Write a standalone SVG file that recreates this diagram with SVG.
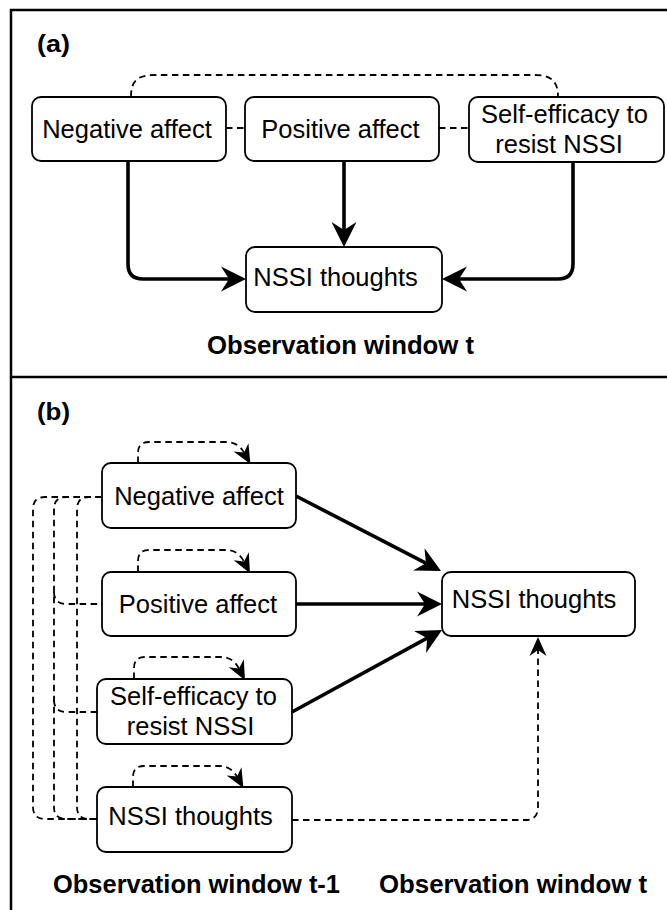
<svg xmlns="http://www.w3.org/2000/svg" width="667" height="910" viewBox="0 0 667 910">
<style>
.box{fill:#fff;stroke:#000;stroke-width:1.8}
.t{font-family:"Liberation Sans",Arial,sans-serif;font-size:25.5px;fill:#000;text-anchor:middle}
.lbl{font-family:"Liberation Sans",Arial,sans-serif;font-weight:bold;fill:#000}
.solid{fill:none;stroke:#000;stroke-width:3.6}
.dash{fill:none;stroke:#000;stroke-width:1.8;stroke-dasharray:6.5 4.5}
.frame{fill:none;stroke:#000;stroke-width:2.5}
</style>
<defs>
<marker id="big" markerUnits="userSpaceOnUse" viewBox="-10 -14 28 28" refX="0" refY="0" markerWidth="28" markerHeight="28" orient="auto">
<path d="M16,0 L-9,-12.5 L-1,0 L-9,12.5 Z" fill="#000"/>
</marker>
<marker id="small" markerUnits="userSpaceOnUse" viewBox="-7 -10 21 20" refX="0" refY="0" markerWidth="21" markerHeight="20" orient="auto">
<path d="M13,0 L-6,-8.5 L0,0 L-6,8.5 Z" fill="#000"/>
</marker>
</defs>
<rect width="667" height="910" fill="#fff"/>
<g id="frame">
<rect class="frame" x="11" y="10" width="680" height="930"/>
<line class="frame" x1="11" y1="377" x2="680" y2="377"/>
</g>
<g id="labels">
<text class="lbl" x="37" y="52" font-size="23" textLength="33" lengthAdjust="spacingAndGlyphs">(a)</text>
<text class="lbl" x="37" y="420" font-size="23" textLength="33" lengthAdjust="spacingAndGlyphs">(b)</text>
<text class="lbl" x="207" y="354" font-size="25" textLength="267" lengthAdjust="spacingAndGlyphs">Observation window t</text>
<text class="lbl" x="53" y="893" font-size="25" textLength="287" lengthAdjust="spacingAndGlyphs">Observation window t-1</text>
<text class="lbl" x="379" y="893" font-size="25" textLength="268" lengthAdjust="spacingAndGlyphs">Observation window t</text>
</g>
<g id="connectors">
<path class="dash" d="M131,97 C131,80 138,75 155,75 L535,75 C552,75 558,82 558,97"/>
<line class="dash" x1="226" y1="128" x2="245" y2="128"/>
<line class="dash" x1="439" y1="128" x2="469" y2="128"/>
<path class="solid" d="M128,161 L128,264 Q128,279 143,279 L230,279" marker-end="url(#big)"/>
<path class="solid" d="M344,161 L344,231" marker-end="url(#big)"/>
<path class="solid" d="M573,162 L573,264 Q573,279 558,279 L458,279" marker-end="url(#big)"/>
<path class="solid" d="M296,496 L426.8,563.6" marker-end="url(#big)"/>
<path class="solid" d="M296,604 L426,604" marker-end="url(#big)"/>
<path class="solid" d="M292,712 L428,637.7" marker-end="url(#big)"/>
<path class="dash" d="M292,820 L525,820 Q538,820 538,807 L538,650" marker-end="url(#small)"/>
<path class="dash" d="M138,463 L138,453 Q138,442 149,442 L226,442 Q238,442 244,452.6" marker-end="url(#small)"/>
<path class="dash" d="M138,572 L138,561 Q138,550 149,550 L226,550 Q238,550 244,561.6" marker-end="url(#small)"/>
<path class="dash" d="M134,679 L134,668 Q134,657 145,657 L221,657 Q233,657 239,668.6" marker-end="url(#small)"/>
<path class="dash" d="M133,787 L133,777 Q133,766 144,766 L219,766 Q231,766 237,776.6" marker-end="url(#small)"/>
<path class="dash" d="M102,497 L45,497 Q33,497 33,509 L33,807 Q33,819 45,819 L97,819"/>
<path class="dash" d="M102,497 L66,497 Q54,497 54,509 L54,807 Q54,819 66,819 L97,819"/>
<path class="dash" d="M102,497 L89,497 Q77,497 77,509 L77,807 Q77,819 89,819 L97,819"/>
<path class="dash" d="M54,592 Q54,604 66,604 L102,604"/>
<path class="dash" d="M54,700 Q54,712 66,712 L97,712"/>
</g>
<g id="a-negative-affect">
<rect class="box" x="32" y="97" width="194" height="64" rx="9"/>
<text class="t" x="127" y="138">Negative affect</text>
</g>
<g id="a-positive-affect">
<rect class="box" x="245" y="97" width="194" height="64" rx="9"/>
<text class="t" x="340.5" y="138">Positive affect</text>
</g>
<g id="a-self-efficacy">
<rect class="box" x="469" y="97" width="195" height="65" rx="9"/>
<text class="t" x="564.5" y="123">Self-efficacy to</text>
<text class="t" x="559" y="153">resist NSSI</text>
</g>
<g id="a-nssi-thoughts">
<rect class="box" x="246" y="247" width="196" height="65" rx="9"/>
<text class="t" x="335.5" y="286">NSSI thoughts</text>
</g>
<g id="b-negative-affect">
<rect class="box" x="102" y="463" width="194" height="65" rx="9"/>
<text class="t" x="199" y="505">Negative affect</text>
</g>
<g id="b-positive-affect">
<rect class="box" x="102" y="572" width="194" height="64" rx="9"/>
<text class="t" x="198" y="613">Positive affect</text>
</g>
<g id="b-self-efficacy">
<rect class="box" x="97" y="679" width="195" height="65" rx="9"/>
<text class="t" x="193.5" y="705">Self-efficacy to</text>
<text class="t" x="190.5" y="735">resist NSSI</text>
</g>
<g id="b-nssi-thoughts-t1">
<rect class="box" x="97" y="787" width="195" height="65" rx="9"/>
<text class="t" x="190.5" y="825">NSSI thoughts</text>
</g>
<g id="b-nssi-thoughts-t">
<rect class="box" x="442" y="572" width="193" height="64" rx="9"/>
<text class="t" x="534" y="608">NSSI thoughts</text>
</g>
</svg>
